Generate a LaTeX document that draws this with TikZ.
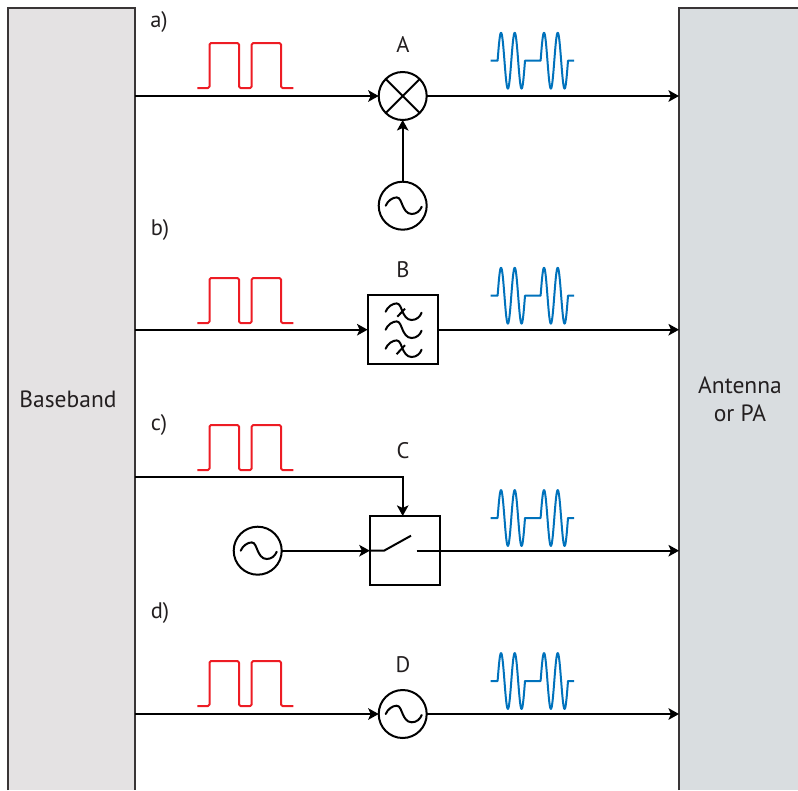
\documentclass[tikz,border=0pt]{standalone}
\usepackage{fontspec}
\setmainfont{PT Sans}
\usetikzlibrary{arrows.meta}
\definecolor{basefill}{HTML}{E4E2E3}
\definecolor{antfill}{HTML}{D9DDE0}
\definecolor{pulsered}{HTML}{ED1C24}
\definecolor{waveblue}{HTML}{0072BC}
\definecolor{ink}{HTML}{231F20}
\tikzset{
  x=1pt,y=-1pt,
  panel/.style={draw=none,inner sep=0pt,outer sep=0pt,minimum height=782pt,anchor=north west},
  panelline/.style={draw=ink!90,line width=2pt},
  conn/.style={draw=black,line width=2pt,-{Stealth[length=10.5pt,width=11.5pt,inset=2.5pt]}},
  plain/.style={draw=black,line width=2pt},
  roundel/.style={circle,draw=black,line width=2pt,fill=white,minimum size=48pt,inner sep=0pt,outer sep=0pt},
  boxel/.style={rectangle,draw=black,line width=2pt,fill=white,minimum width=70pt,minimum height=69.5pt,inner sep=0pt,outer sep=0pt},
  lbl/.style={font=\fontsize{22.5pt}{28pt}\selectfont,text=ink,inner sep=0pt},
  paneltext/.style={font=\fontsize{23.5pt}{28pt}\selectfont,text=ink,inner sep=0pt,align=center},
  pulse/.pic={\draw[pulsered,line width=2pt,line join=round,rounded corners=1.5pt]
    (0,0)--(12.2,0)--(12.2,-45)--(41.7,-45)--(41.7,0)--(54.4,0)--(54.4,-45)--(83.7,-45)--(83.7,0)--(96,0);},
  wave/.pic={\draw[waveblue,line width=2pt,line join=round]
    (0,0)--(6.9,0)--plot[domain=6.9:34.3,samples=61,smooth] (\x,{-28*sin(360*(\x-6.9)/13.7)})
    --(49.9,0)--plot[domain=49.9:77.3,samples=61,smooth] (\x,{-28*sin(360*(\x-49.9)/13.7)})
    --(83.3,0);},
  tilde/.pic={\draw[black,line width=2pt,line cap=round]
    (-17,0) .. controls (-15,-5) and (-10,-8.3) .. (-6,-8.3)
    .. controls (-2.5,-8.3) and (-1.5,-3) .. (0,0)
    .. controls (1.5,3.5) and (4,8.3) .. (9,8.3)
    .. controls (14,8.3) and (17.5,5) .. (19,1);}
}
\begin{document}
\begin{tikzpicture}
\useasboundingbox (0,0) rectangle (798,790);
% panels
\node[panel,fill=basefill,minimum width=127.5pt] (base) at (7.5,8) {};
\node[panel,fill=antfill,minimum width=119pt] (ant) at (679,8) {};
\draw[panelline] (base.south west) -- (base.north west) -- (base.north east) -- (base.south east);
\draw[panelline] (ant.south west) -- (ant.north west) -- (ant.north east);
\node[paneltext] (basetext) at (68,399) {Baseband};
\node[paneltext] (anttext) at (740,399) {Antenna\\or PA};
% row labels
\node[lbl] (la) at (159,22) {a)};
\node[lbl] (lb) at (160,230) {b)};
\node[lbl] (lc) at (159,425) {c)};
\node[lbl] (ld) at (160,613) {d)};
\node[lbl] (tA) at (403,45) {A};
\node[lbl] (tB) at (403,270) {B};
\node[lbl] (tC) at (403,451) {C};
\node[lbl] (tD) at (403,665) {D};
% pulses and waves
\pic at (197.3,88) {pulse};
\pic at (197.3,323) {pulse};
\pic at (197.3,470) {pulse};
\pic at (197.3,706) {pulse};
\pic at (490.7,60.7) {wave};
\pic at (490.7,295.7) {wave};
\pic at (490.7,518) {wave};
\pic at (490.7,681) {wave};
% a) mixer
\node[roundel] (mix) at (402.7,96) {};
\draw[black,line width=2pt] (mix.north west) -- (mix.south east) (mix.north east) -- (mix.south west);
\node[roundel] (osca) at (402.7,205.7) {};
\pic at (osca) {tilde};
\draw[conn] (base.east |- mix.west) -- (mix.west);
\draw[conn] (mix.east) -- (ant.west |- mix.east);
\draw[conn] (osca.north) -- (mix.south);
% b) filter
\node[boxel] (filt) at (402.6,329.7) {};
\pic at ([yshift=18pt]filt.center) {tilde};
\pic at (filt.center) {tilde};
\pic at ([yshift=-19pt]filt.center) {tilde};
\draw[black,line width=2pt] ([shift={(-5.3,-13)}]filt.center) -- ([shift={(2.4,-21)}]filt.center);
\draw[black,line width=2pt] ([shift={(-6,24.5)}]filt.center) -- ([shift={(2.4,15.5)}]filt.center);
\draw[conn] (base.east |- filt.west) -- (filt.west);
\draw[conn] (filt.east) -- (ant.west |- filt.east);
% c) switch
\node[boxel] (sw) at (404.8,550.7) {};
\node[roundel] (oscc) at (257.7,550.7) {};
\pic at (oscc) {tilde};
\coordinate (cjoin) at (402.7,477);
\coordinate (swa) at (384,550.7);
\coordinate (swb) at (411,535.7);
\coordinate (swc) at (416.7,550.7);
\draw[conn] (base.east |- cjoin) -- (cjoin) -- (cjoin |- sw.north);
\draw[conn] (oscc.east) -- (sw.west);
\draw[plain] (sw.west) -- (swa) -- (swb);
\draw[conn] (swc) -- (ant.west |- swc);
% d) oscillator
\node[roundel] (oscd) at (402.7,714) {};
\pic at (oscd) {tilde};
\draw[conn] (base.east |- oscd.west) -- (oscd.west);
\draw[conn] (oscd.east) -- (ant.west |- oscd.east);
\end{tikzpicture}
\end{document}
